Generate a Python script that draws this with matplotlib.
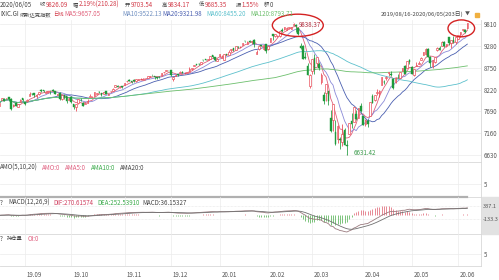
import matplotlib
matplotlib.use("Agg")
import matplotlib.pyplot as plt
from matplotlib.patches import Ellipse, Rectangle
import numpy as np
import pandas as pd

plt.rcParams['font.family'] = ['Noto Sans CJK SC', 'DejaVu Sans']

# ---------------- data ----------------
holidays = ['2019-09-02', '2019-11-28', '2019-12-25', '2020-01-01',
            '2020-01-20', '2020-02-17', '2020-04-10', '2020-05-25']
dates = pd.bdate_range('2019-08-16', '2020-06-05')
dates = dates[~dates.isin(pd.to_datetime(holidays))]

close = [
 7895.99, 8002.81, 7948.56, 8020.21, 7991.39, 7751.77, 7853.74, 7826.95, 7856.88, 7973.39, 7962.88,
 7874.16, 7976.88, 8116.83, 8103.07, 8087.44, 8084.16, 8169.68, 8194.47, 8176.71, 8153.54, 8186.02, 8177.39, 8182.88, 8117.67, 8112.46, 7993.63, 8077.38, 8030.66, 7939.63, 7999.34,
 7908.68, 7785.25, 7872.27, 7982.47, 7956.29, 7823.78, 7903.74, 7950.78, 8057.04, 8048.65, 8148.71, 8124.18, 8156.85, 8089.54, 8162.99, 8104.30, 8119.79, 8185.80, 8243.12, 8325.99, 8276.85, 8303.98, 8292.36,
 8386.40, 8433.20, 8434.68, 8410.63, 8434.52, 8475.31, 8464.28, 8486.09, 8482.10, 8479.02, 8540.83, 8549.94, 8570.66, 8526.73, 8506.21, 8519.89, 8632.49, 8647.93, 8705.18, 8665.47,
 8567.99, 8520.64, 8566.67, 8570.70, 8656.53, 8621.83, 8616.18, 8654.05, 8717.32, 8734.88, 8814.23, 8823.36, 8827.74, 8887.22, 8924.96, 8945.65, 8952.88, 9022.39, 9006.62, 8945.99, 8972.60,
 9092.19, 9020.77, 9071.46, 9068.58, 9129.24, 9203.43, 9178.86, 9273.93, 9251.33, 9258.70, 9357.13, 9388.94, 9370.81, 9383.77, 9402.48, 9314.91, 9139.31, 9269.68, 9275.16, 9298.93, 9150.94,
 9273.40, 9467.97, 9508.68, 9572.15, 9520.51, 9628.39, 9638.94, 9725.96, 9711.97, 9731.18, 9732.74, 9817.18, 9750.97, 9576.59, 9221.28, 8965.61, 8980.78, 8566.48, 8567.37,
 8952.16, 8684.09, 9018.09, 8738.60, 8575.62, 7950.68, 8344.25, 7952.05, 7201.80, 7874.88, 6904.59, 7334.78, 6989.84, 7150.58, 6879.52, 6860.67, 7417.86, 7384.30, 7797.54, 7502.38, 7774.15, 7700.10,
 7360.58, 7487.31, 7373.08, 7913.24, 7887.26, 8090.90, 8153.58, 8192.42, 8515.74, 8393.18, 8532.36, 8650.14, 8560.73, 8263.23, 8495.38, 8494.75, 8634.52, 8730.16, 8607.73, 8914.71, 8889.55,
 8604.95, 8710.72, 8809.12, 8854.39, 8979.66, 9121.32, 9192.34, 9002.55, 8863.17, 8943.72, 9014.56, 9234.83, 9185.10, 9375.78, 9284.88, 9324.59, 9340.22, 9412.36, 9368.99, 9489.87,
 9552.05, 9608.38, 9682.91, 9615.81, 9826.09]

open_ = [
 7816, 7973, 7993, 8004, 8027, 7978, 7831, 7901, 7806, 7919, 8004,
 7908, 7934, 8066, 8120, 8126, 8057, 8099, 8218, 8211, 8138, 8154, 8179, 8197, 8183, 8091, 8144, 7987, 8083, 8052, 7965,
 8031, 7862, 7788, 7889, 7961, 7904, 7877, 7891, 8032, 8035, 8074, 8120, 8161, 8145, 8120, 8175, 8082, 8172, 8175, 8291, 8314, 8280, 8299,
 8336, 8429, 8436, 8427, 8448, 8422, 8444, 8467, 8455, 8468, 8505, 8540, 8574, 8550, 8528, 8527, 8550, 8634, 8669, 8677,
 8688, 8470, 8554, 8587, 8620, 8641, 8613, 8629, 8646, 8717, 8792, 8833, 8831, 8835, 8933, 8949, 8940, 8964, 9049, 9004, 8919,
 9039, 8976, 8944, 9071, 9068, 9176, 9217, 9191, 9261, 9248, 9301, 9399, 9334, 9399, 9364, 9427, 9092, 9192, 9304, 9210, 9330,
 9193, 9379, 9562, 9519, 9518, 9516, 9658, 9679, 9667, 9719, 9693, 9783, 9789, 9717, 9280, 9265, 9004, 8800, 8305,
 8667, 8984, 8855, 8848, 8414, 8096, 8126, 8182, 7530, 7483, 7180, 7029, 7009, 6948, 7239, 6866, 7138, 7464, 7421, 7637, 7537, 7811,
 7568, 7386, 7463, 7582, 8069, 7957, 8128, 8131, 8323, 8410, 8488, 8624, 8587, 8475, 8410, 8506, 8510, 8681, 8798, 8748, 8925,
 8778, 8572, 8788, 8846, 8943, 9065, 9071, 9214, 9010, 8795, 8880, 9189, 9227, 9286, 9367, 9283, 9501, 9346, 9431, 9366,
 9442, 9565, 9656, 9664, 9703.54]

high = [
 7920, 8017, 8006, 8025, 8041, 8018, 7857, 7905, 7868, 7993, 8006,
 7917, 7980, 8150, 8126, 8139, 8087, 8170, 8241, 8218, 8172, 8186, 8187, 8232, 8194, 8123, 8152, 8090, 8088, 8054, 8009,
 8061, 7863, 7874, 7985, 8002, 7922, 7912, 7989, 8106, 8072, 8163, 8146, 8174, 8147, 8167, 8182, 8120, 8191, 8259, 8340, 8327, 8313, 8306,
 8388, 8437, 8463, 8428, 8467, 8475, 8471, 8507, 8496, 8484, 8541, 8558, 8581, 8556, 8531, 8537, 8632, 8651, 8705, 8680,
 8692, 8523, 8590, 8588, 8671, 8659, 8648, 8655, 8766, 8752, 8824, 8840, 8854, 8887, 8948, 8951, 8953, 9022, 9052, 9006, 8974,
 9093, 9065, 9072, 9091, 9168, 9204, 9219, 9274, 9276, 9283, 9357, 9403, 9393, 9420, 9405, 9451, 9168, 9279, 9311, 9299, 9333,
 9297, 9469, 9563, 9572, 9536, 9629, 9711, 9726, 9744, 9731, 9736, 9838.37, 9808, 9726, 9342, 9290, 9129, 8873, 8587,
 8953, 9071, 9018, 8891, 8628, 8155, 8349, 8182, 7718, 7875, 7490, 7349, 7057, 7373, 7291, 6994, 7418, 7649, 7802, 7711, 7782, 7881,
 7575, 7497, 7496, 7916, 8123, 8092, 8236, 8200, 8528, 8446, 8552, 8652, 8668, 8493, 8514, 8605, 8636, 8744, 8808, 8923, 8954,
 8781, 8712, 8889, 8902, 9005, 9124, 9227, 9225, 9032, 8945, 9016, 9258, 9264, 9388, 9393, 9327, 9504, 9414, 9523, 9505,
 9552, 9609, 9694, 9685, 9834.17]

low = [
 7810, 7969, 7946, 7986, 7937, 7731, 7803, 7811, 7787, 7915, 7930,
 7836, 7922, 8066, 8084, 8036, 8002, 8086, 8171, 8168, 8134, 8142, 8118, 8174, 8101, 8084, 7967, 7961, 7993, 7900, 7960,
 7903, 7744, 7700, 7880, 7951, 7823, 7857, 7885, 8032, 8032, 8071, 8113, 8133, 8057, 8116, 8100, 8075, 8152, 8172, 8291, 8273, 8260, 8262,
 8336, 8410, 8428, 8389, 8412, 8411, 8444, 8458, 8454, 8453, 8496, 8525, 8548, 8476, 8483, 8494, 8549, 8621, 8669, 8660,
 8551, 8435, 8542, 8539, 8620, 8620, 8597, 8619, 8634, 8693, 8790, 8812, 8823, 8830, 8908, 8926, 8930, 8963, 8987, 8920, 8913,
 9010, 8976, 8943, 9061, 9060, 9141, 9164, 9190, 9238, 9235, 9300, 9361, 9330, 9378, 9335, 9253, 9089, 9175, 9264, 9183, 9115,
 9188, 9368, 9430, 9506, 9487, 9504, 9622, 9667, 9659, 9688, 9687, 9775, 9605, 9536, 9201, 8949, 8967, 8564, 8264,
 8587, 8589, 8785, 8690, 8344, 7864, 7949, 7841, 7194, 7201, 6880, 6916, 6787, 6838, 6872, 6631.42, 7138, 7287, 7420, 7490, 7523, 7686,
 7348, 7337, 7304, 7579, 7885, 7953, 8098, 8028, 8320, 8342, 8451, 8552, 8555, 8226, 8390, 8488, 8500, 8678, 8594, 8738, 8851,
 8600, 8547, 8783, 8837, 8940, 9049, 9068, 9000, 8767, 8749, 8875, 9156, 9183, 9282, 9263, 9244, 9312, 9226, 9360, 9317,
 9441, 9519, 9638, 9586, 9685.35]

ma_periods = [5, 10, 20, 60, 120]
ma_colors = ['#e0607a', '#8a8ad8', '#4a5fb0', '#5cc0cc', '#6cbf6c']
price_ticks = [9810, 9280, 8750, 8220, 7690, 7160, 6630]
macd_ticks = [337.1, -133.3]

# ---------------- helpers ----------------
W, H = 499, 280
def fx(px): return px / W
def fy(py): return 1 - py / H

c = pd.Series(close, dtype=float)
o = np.array(open_, dtype=float)
hi = np.array(high, dtype=float)
lo = np.array(low, dtype=float)
n = len(c)
idx = np.arange(n)

UP = '#e8424e'
DOWN = '#1e9a3c'
GRID = '#ececec'
TXT = '#444444'
RED = '#d23a48'

fig = plt.figure(figsize=(W / 100, H / 100), dpi=100)
fig.patch.set_facecolor('white')

right_px = 481
xl = (0.216, 207.9)
ax_p = fig.add_axes([0, fy(162), fx(right_px), (162 - 20) / H])
ax_a = fig.add_axes([0, fy(197), fx(right_px), 35 / H])
ax_m = fig.add_axes([0, fy(234), fx(right_px), 37 / H])
ax_o = fig.add_axes([0, fy(266), fx(right_px), 32 / H])

month_key = dates.strftime('%Y-%m')
month_starts = [i for i in range(1, n) if month_key[i] != month_key[i - 1]]
month_labels = [dates[i].strftime('%y.%m') for i in month_starts]

for ax in (ax_p, ax_a, ax_m, ax_o):
    ax.set_xlim(*xl)
    for s in ('top', 'left'):
        ax.spines[s].set_visible(False)
    ax.spines['right'].set_color('#d8d8d8')
    ax.spines['right'].set_linewidth(0.6)
    ax.spines['bottom'].set_color('#d8d8d8')
    ax.spines['bottom'].set_linewidth(0.6)
    ax.set_xticks(month_starts)
    ax.set_xticklabels([])
    ax.tick_params(axis='x', length=0)
    ax.yaxis.tick_right()
    ax.tick_params(axis='y', length=0, pad=2, labelsize=4.4, labelcolor='#555555')
    ax.grid(True, color=GRID, lw=0.5)
    ax.set_axisbelow(True)
    ax.patch.set_alpha(0)

# ---------------- price panel ----------------
ax_p.set_ylim(6460.7, 9907)
ax_p.set_yticks(price_ticks)
ax_p.set_yticklabels([str(t) for t in price_ticks])

up = c.values >= o
col = np.where(up, UP, DOWN)
ax_p.vlines(idx, lo, hi, colors=col, lw=0.55, zorder=3)
body_bot = np.minimum(o, c.values)
body_h = np.maximum(np.abs(c.values - o), 8)
ax_p.bar(idx[up], body_h[up], bottom=body_bot[up], width=0.7,
         facecolor='white', edgecolor=UP, lw=0.45, zorder=4)
ax_p.bar(idx[~up], body_h[~up], bottom=body_bot[~up], width=0.7,
         facecolor=DOWN, edgecolor=DOWN, lw=0.3, zorder=4)

for p, mc in zip(ma_periods, ma_colors):
    ma = c.rolling(p, min_periods=1).mean()
    ax_p.plot(idx, ma, color=mc, lw=0.6, zorder=2)

ih = int(np.argmax(hi))
il = int(np.argmin(lo))
ax_p.annotate(f'{hi[ih]:.2f}', xy=(ih, hi[ih]), xytext=(4, -1.5),
              textcoords='offset points', fontsize=4.4, color='#b02c3c',
              va='center', ha='left',
              arrowprops=dict(arrowstyle='-', color='#b02c3c', lw=0.4))
ax_p.annotate(f'{lo[il]:.2f}', xy=(il, lo[il]), xytext=(4.5, 1.5),
              textcoords='offset points', fontsize=4.4, color='#3a9a4a',
              va='center', ha='left',
              arrowprops=dict(arrowstyle='-', color='#3a9a4a', lw=0.4))

ax_p.add_patch(Ellipse((ih + 1.8, hi[ih] - 60), 22, 540, fill=False,
                       ec='#d42222', lw=1.0, zorder=6, clip_on=False))
ax_p.add_patch(Ellipse((n - 1 - 2.6, hi[-1] - 130), 11.5, 410, fill=False,
                       ec='#d42222', lw=1.0, zorder=6, clip_on=False))

# ---------------- AMO panel ----------------
ax_a.set_ylim(-0.2, 13.8)
ax_a.set_yticks([5])
ax_a.set_yticklabels(['5'])
ax_a.plot(idx, np.zeros(n), color='#b0b0b0', lw=1.6, zorder=3, clip_on=False)

# ---------------- MACD panel ----------------
ema12 = c.ewm(span=12, adjust=False).mean()
ema26 = c.ewm(span=26, adjust=False).mean()
dif = ema12 - ema26
dea = dif.ewm(span=9, adjust=False).mean()
hist = 2 * (dif - dea)
ax_m.set_ylim(-676.5, 663)
ax_m.set_yticks(macd_ticks)
ax_m.set_yticklabels(['337.1', '-133.3'])
ax_m.tick_params(axis='y', labelsize=4.0, pad=1.5)
ax_m.grid(True, axis='y', color='#e4e4e4', lw=0.5, ls=(0, (1, 1)))
hcol = np.where(hist >= 0, '#e06a78', '#5ab45a')
ax_m.vlines(idx, 0, hist, colors=hcol, lw=0.55, zorder=2)
ax_m.plot(idx, dif, color='#9a7a7e', lw=0.6, zorder=3)
ax_m.plot(idx, dea, color='#707070', lw=0.6, zorder=3)

# ---------------- OI panel ----------------
ax_o.set_ylim(-1, 15)
ax_o.set_yticks([5])
ax_o.set_yticklabels(['5'])

for i, lbl in zip(month_starts, month_labels):
    ax_o.annotate(lbl, xy=(i, 0), xycoords=('data', 'axes fraction'),
                  xytext=(1.4, -6.2), textcoords='offset points',
                  ha='left', va='center', fontsize=4.4, color='#555555',
                  annotation_clip=False)

fig.patches.append(Rectangle((fx(481.5), fy(234)), fx(499) - fx(481.5), 37 / H,
                             transform=fig.transFigure, color='#e2e2e2', zorder=-1))

# ---------------- header texts ----------------
FS = 4.4
CJK = 3.8
def t(px, py, s, color=TXT, size=FS):
    fig.text(fx(px), fy(py), s, fontsize=size, color=color, ha='left', va='center')

t(0, 5, '2020/06/05')
t(40, 5, '收', size=CJK); t(46, 5, '9826.09', RED)
t(73, 5, '幅', size=CJK); t(79, 5, '2.19%(210.28)', RED)
t(125, 5, '开', size=CJK); t(131, 5, '9703.54', RED)
t(162, 5, '高', size=CJK); t(168, 5, '9834.17', RED)
t(199, 5, '低', size=CJK); t(205, 5, '9685.35', RED)
t(236, 5, '振', size=CJK); t(242, 5, '1.55%', RED)
t(264, 5, '额', size=CJK); t(270, 5, '0')

t(0, 14.5, 'IXIC.GI')
t(20, 14.5, '纳斯达克指数', size=CJK)
t(53, 14.5, '日线', RED, size=CJK)
t(64, 14.5, 'MA5:9657.05', ma_colors[0])
t(122, 14.5, 'MA10:9522.13', '#6f8fc0')
t(162, 14.5, 'MA20:9321.98', ma_colors[2])
t(206, 14.5, 'MA60:8455.20', ma_colors[3])
t(250, 14.5, 'MA120:8793.71', ma_colors[4])
fig.text(fx(463), fy(14.5), '2019/08/16-2020/06/05(203日)', fontsize=4.2,
         color=TXT, ha='right', va='center')
t(465, 14.5, '▼', '#555555', size=3.6)
fig.patches.append(Rectangle((fx(475), fy(16.5)), 4 / W, 4 / H,
                             transform=fig.transFigure, color='#f0b040'))

t(0, 168, 'AMO(5,10,20)')
t(42, 168, 'AMO:0', '#e06080')
t(65, 168, 'AMA5:0', '#e06080')
t(91, 168, 'AMA10:0', '#3aaa4a')
t(120, 168, 'AMA20:0')

t(0, 203, '?')
t(8, 203, 'MACD(12,26,9)')
t(53, 203, 'DIF:270.61574', '#d04060')
t(97, 203, 'DEA:252.53910', '#3aaa4a')
t(142, 203, 'MACD:36.15327')

t(0, 239, '?')
t(7, 239, '持仓量', size=CJK)
t(28, 239, 'OI:0', '#e06080')

fig.savefig('out.png', dpi=100)
